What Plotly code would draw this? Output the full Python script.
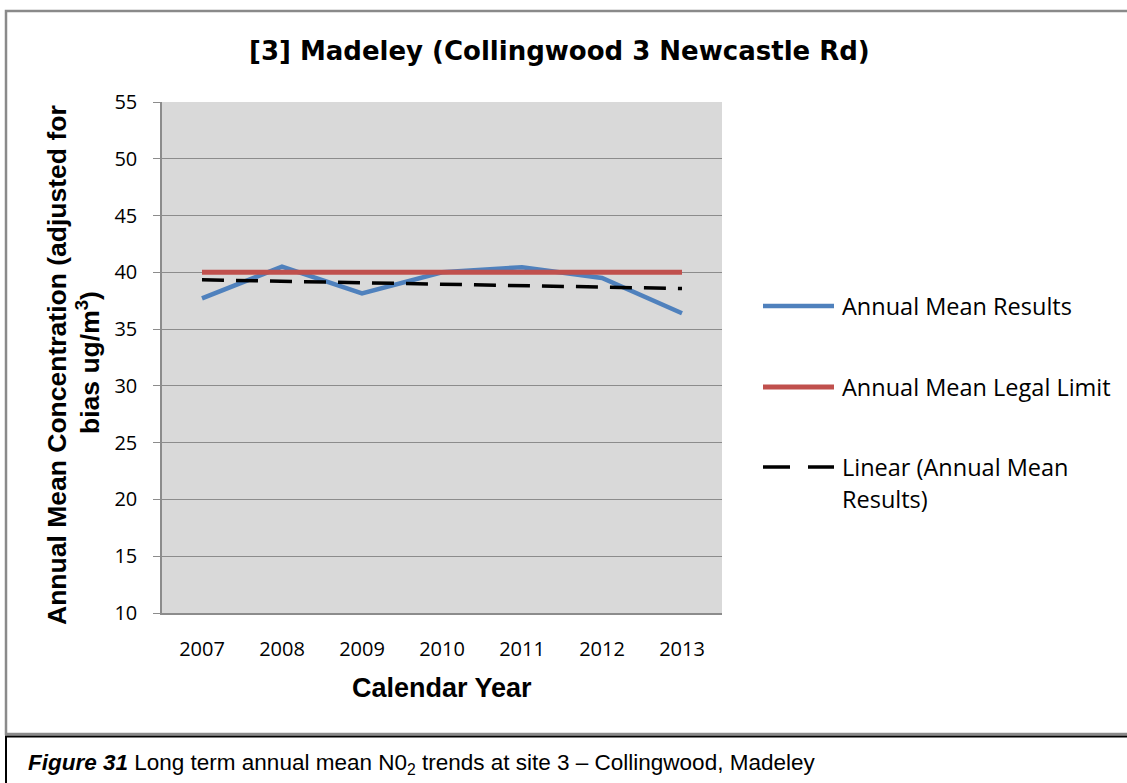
import numpy as np
import plotly.graph_objects as go

W, H = 1127, 783

years = ["2007", "2008", "2009", "2010", "2011", "2012", "2013"]
annual_mean = [37.7, 40.5, 38.15, 40.0, 40.45, 39.5, 36.4]
legal_limit = [40, 40, 40, 40, 40, 40, 40]
y_ticks = [10, 15, 20, 25, 30, 35, 40, 45, 50, 55]

# Linear trendline (Excel style least squares over category index)
idx = np.arange(len(years))
slope, intercept = np.polyfit(idx, annual_mean, 1)
trend = list(intercept + slope * idx)

BLUE = "#4f81bd"
RED = "#c0504d"
TICKFONT = "Open Sans"

def px(x):
    return x / W

def py(y):
    return 1 - y / H

fig = go.Figure()
fig.add_trace(go.Scatter(x=years, y=annual_mean, mode="lines",
                         line=dict(color=BLUE, width=4.5), name="Annual Mean Results"))
fig.add_trace(go.Scatter(x=years, y=legal_limit, mode="lines",
                         line=dict(color=RED, width=5), name="Annual Mean Legal Limit"))
fig.add_trace(go.Scatter(x=years, y=trend, mode="lines",
                         line=dict(color="black", width=3.5, dash="22px,12px"),
                         name="Linear (Annual Mean Results)"))

fig.update_layout(
    width=W, height=H,
    margin=dict(l=0, r=0, t=0, b=0, autoexpand=False),
    paper_bgcolor="white",
    plot_bgcolor="#d9d9d9",
    showlegend=False,
    font=dict(family=TICKFONT, size=18, color="black"),
    xaxis=dict(domain=[px(162), px(722)], type="category", automargin=False,
               range=[-0.5, len(years) - 0.5],
               showgrid=False, showline=True, linecolor="#8c8c8c", linewidth=1.5,
               ticks="", tickfont=dict(family=TICKFONT, size=20),
               ticklabelstandoff=17, fixedrange=True),
    yaxis=dict(domain=[py(613), py(102)], range=[10, 55], automargin=False,
               tickvals=y_ticks, showgrid=True, gridcolor="#8c8c8c", gridwidth=1,
               showline=True, linecolor="#8c8c8c", linewidth=1.5,
               ticks="outside", ticklen=7, tickcolor="#8c8c8c",
               tickfont=dict(family=TICKFONT, size=20), ticklabelstandoff=12,
               zeroline=False, fixedrange=True),
)

shapes = []
# chart frame (gray)
shapes.append(dict(type="rect", xref="paper", yref="paper",
                   x0=px(6), x1=px(1135), y0=py(734), y1=py(11),
                   line=dict(color="#8a8a8a", width=2.5), fillcolor="rgba(0,0,0,0)", layer="below"))
# caption box (black)
shapes.append(dict(type="rect", xref="paper", yref="paper",
                   x0=px(6), x1=px(1135), y0=py(800), y1=py(736.5),
                   line=dict(color="black", width=2), fillcolor="rgba(0,0,0,0)"))

# manual legend
legend_items = [
    (306, BLUE, 4.5, "solid", "Annual Mean Results"),
    (387, RED, 5, "solid", "Annual Mean Legal Limit"),
    (467, "black", 3.5, "27px,18px", "Linear (Annual Mean"),
]
annotations = []
for yy, col, wdt, dsh, label in legend_items:
    shapes.append(dict(type="line", xref="paper", yref="paper",
                       x0=px(763), x1=px(834), y0=py(yy), y1=py(yy),
                       line=dict(color=col, width=wdt, dash=dsh)))
    annotations.append(dict(x=px(840), y=py(yy), xref="paper", yref="paper",
                            text=label, showarrow=False, xanchor="left", yanchor="middle",
                            font=dict(family="Open Sans", size=23.5, color="black")))
annotations.append(dict(x=px(840), y=py(499), xref="paper", yref="paper",
                        text="Results)", showarrow=False, xanchor="left", yanchor="middle",
                        font=dict(family="Open Sans", size=23.5, color="black")))

# title
annotations.append(dict(x=px(559), y=py(51), xref="paper", yref="paper",
                        text="<b>[3] Madeley (Collingwood 3 Newcastle Rd)</b>", showarrow=False,
                        xanchor="center", yanchor="middle",
                        font=dict(family="DejaVu Sans", size=26, color="black")))
# y axis title (two lines)
annotations.append(dict(x=px(57), y=py(365), xref="paper", yref="paper",
                        text="<b>Annual Mean Concentration (adjusted for</b>", showarrow=False,
                        textangle=-90, xanchor="center", yanchor="middle",
                        font=dict(family="Liberation Sans", size=26.5, color="black")))
annotations.append(dict(x=px(88), y=py(363), xref="paper", yref="paper",
                        text="<b>bias ug/m<sup>3</sup>)</b>", showarrow=False,
                        textangle=-90, xanchor="center", yanchor="middle",
                        font=dict(family="Liberation Sans", size=26.5, color="black")))
# x axis title
annotations.append(dict(x=px(442), y=py(688), xref="paper", yref="paper",
                        text="<b>Calendar Year</b>", showarrow=False,
                        xanchor="center", yanchor="middle",
                        font=dict(family="Liberation Sans", size=27, color="black")))
# caption
annotations.append(dict(x=px(26), y=py(764), xref="paper", yref="paper",
                        text="<b><i>Figure 31</i></b> Long term annual mean N0<sub>2</sub> trends at site 3 – Collingwood, Madeley",
                        showarrow=False, xanchor="left", yanchor="middle",
                        font=dict(family="Liberation Sans", size=22.5, color="black")))

fig.update_layout(shapes=shapes, annotations=annotations)
fig.write_html("out.html")
